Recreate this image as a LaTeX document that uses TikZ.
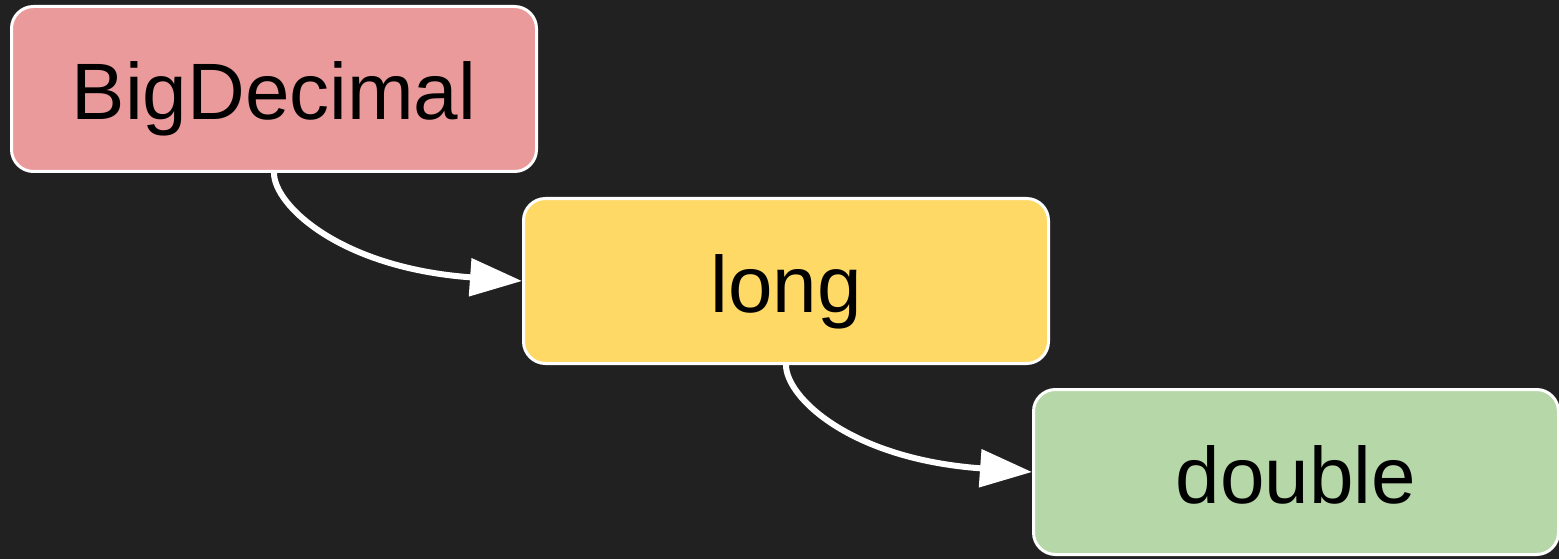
\documentclass[tikz,border=0pt]{standalone}
\usepackage{fontspec}
\setmainfont{Liberation Sans}
\usetikzlibrary{arrows.meta}

\definecolor{bgdark}{RGB}{33,33,33}
\definecolor{boxpink}{RGB}{234,154,154}
\definecolor{boxyellow}{RGB}{255,217,102}
\definecolor{boxgreen}{RGB}{182,215,168}

\tikzset{
  typebox/.style={draw=white, line width=3pt, rounded corners=22pt,
    minimum width=525pt, minimum height=165pt, inner sep=0pt,
    text height=62pt, text depth=0pt,
    font=\fontsize{80}{96}\selectfont, text=black},
  widen/.style={draw=white, line width=6pt,
    -{Triangle[length=52pt,width=37pt]}}
}

\begin{document}
\begin{tikzpicture}[x=1pt,y=-1pt]
%background
\fill[bgdark] (0,0) rectangle (1559,559);
\useasboundingbox (0,0) rectangle (1559,559);

% Boxes
\node[typebox, fill=boxpink] (bigdec) at (274,89) {BigDecimal};
\node[typebox, fill=boxyellow] (lng) at (786,281) {long};
\node[typebox, fill=boxgreen] (dbl) at (1296,472) {double};

% Conversions
\draw[widen] (bigdec.south) .. controls +(0,32) and +(-182,-13) .. (lng.west);
\draw[widen] (lng.south) .. controls +(0,32) and +(-182,-13) .. (dbl.west);

\end{tikzpicture}
\end{document}
